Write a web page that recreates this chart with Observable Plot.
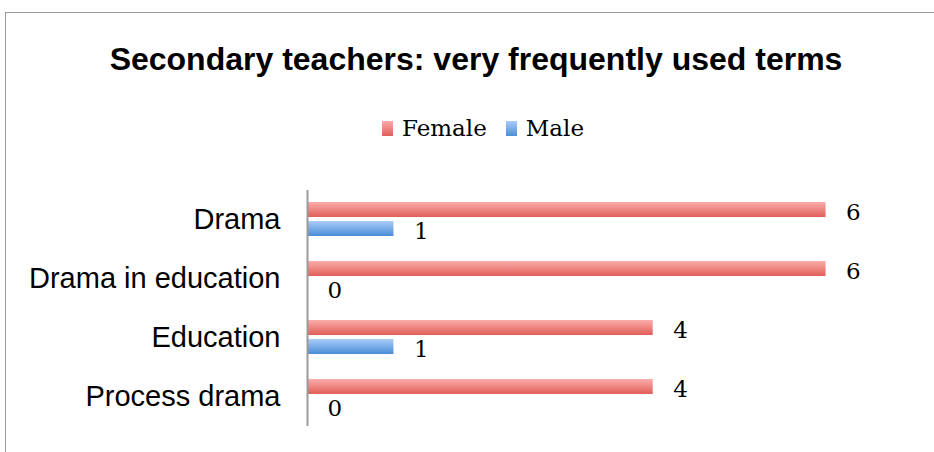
<!DOCTYPE html>
<html><head><meta charset="utf-8">
<script src="https://cdn.jsdelivr.net/npm/d3@7"></script>
<script src="https://cdn.jsdelivr.net/npm/@observablehq/plot@0.6"></script>
<style>
html,body{margin:0;padding:0;background:#fff;}
#wrap{position:relative;width:934px;height:452px;overflow:hidden;}
#frame{position:absolute;left:5px;top:12px;width:940px;height:460px;border:1.5px solid #999;box-sizing:border-box;}
#title{position:absolute;left:0;width:952px;top:41px;text-align:center;font:bold 32px "Liberation Sans",Arial,sans-serif;color:#000;}
#legend{position:absolute;left:382px;top:115px;font:23px "DejaVu Serif",serif;color:#000;display:flex;align-items:center;}
#legend span.sw{display:inline-block;width:11px;height:15px;margin-right:9px;}
#legend span.it{display:flex;align-items:center;margin-right:19px;}
#chart{position:absolute;left:0;top:0;}
</style></head>
<body><div id="wrap"><div id="frame"></div><div id="title"></div><div id="legend"></div><div id="chart"></div></div>
<script>
const title = "Secondary teachers: very frequently used terms";
const categories = ["Drama","Drama in education","Education","Process drama"];
const series = ["Female","Male"];
const femaleValues = [6,6,4,4];
const maleValues = [1,0,1,0];

const data = [];
categories.forEach((c,i)=>{
  data.push({category:c, sex:"Female", value:femaleValues[i]});
  data.push({category:c, sex:"Male", value:maleValues[i]});
});

document.getElementById("title").textContent = title;
const leg = document.getElementById("legend");
const grads = {Female:"linear-gradient(#fbaaaa,#e0605a)", Male:"linear-gradient(#a8ccf7,#4d8fd9)"};
series.forEach(s=>{
  const it = document.createElement("span"); it.className="it";
  const sw = document.createElement("span"); sw.className="sw"; sw.style.background=grads[s];
  it.appendChild(sw); it.appendChild(document.createTextNode(s));
  leg.appendChild(it);
});

const plot = Plot.plot({
  width: 934, height: 452,
  marginLeft: 307, marginRight: 22, marginTop: 188, marginBottom: 25,
  x: {domain:[0,7], axis:null},
  y: {domain: series, axis:null, paddingInner:0.2, paddingOuter:0.6},
  fy: {domain: categories, padding:0, label:null, tickSize:0, tickPadding:27},
  style: {fontFamily:"'Liberation Sans', Arial, sans-serif", fontSize:"29px", color:"#000", background:"transparent"},
  marks: [
    Plot.barX(data, {fy:"category", y:"sex", x:"value", fill: d => d.sex==="Female" ? "url(#gF)" : "url(#gM)", style:"filter:drop-shadow(1px 3px 2px rgba(0,0,0,0.35))"}),
    Plot.ruleX([0], {stroke:"#9a9a9a", strokeWidth:2}),
    Plot.text(data, {fy:"category", y:"sex", x:"value", text:d=>String(d.value), dx:20, dy:3, textAnchor:"start", fontSize:23, fontFamily:"'DejaVu Serif', serif", fill:"#000"})
  ]
});
const svg = d3.select(plot);
const defs = svg.insert("defs", ":first-child");
const gF = defs.append("linearGradient").attr("id","gF").attr("x1",0).attr("y1",0).attr("x2",0).attr("y2",1);
gF.append("stop").attr("offset","0").attr("stop-color","#fcacab");
gF.append("stop").attr("offset","1").attr("stop-color","#e05f58");
const gM = defs.append("linearGradient").attr("id","gM").attr("x1",0).attr("y1",0).attr("x2",0).attr("y2",1);
gM.append("stop").attr("offset","0").attr("stop-color","#a9cdf8");
gM.append("stop").attr("offset","1").attr("stop-color","#4a8cd8");
document.getElementById("chart").appendChild(plot);
</script></body></html>
